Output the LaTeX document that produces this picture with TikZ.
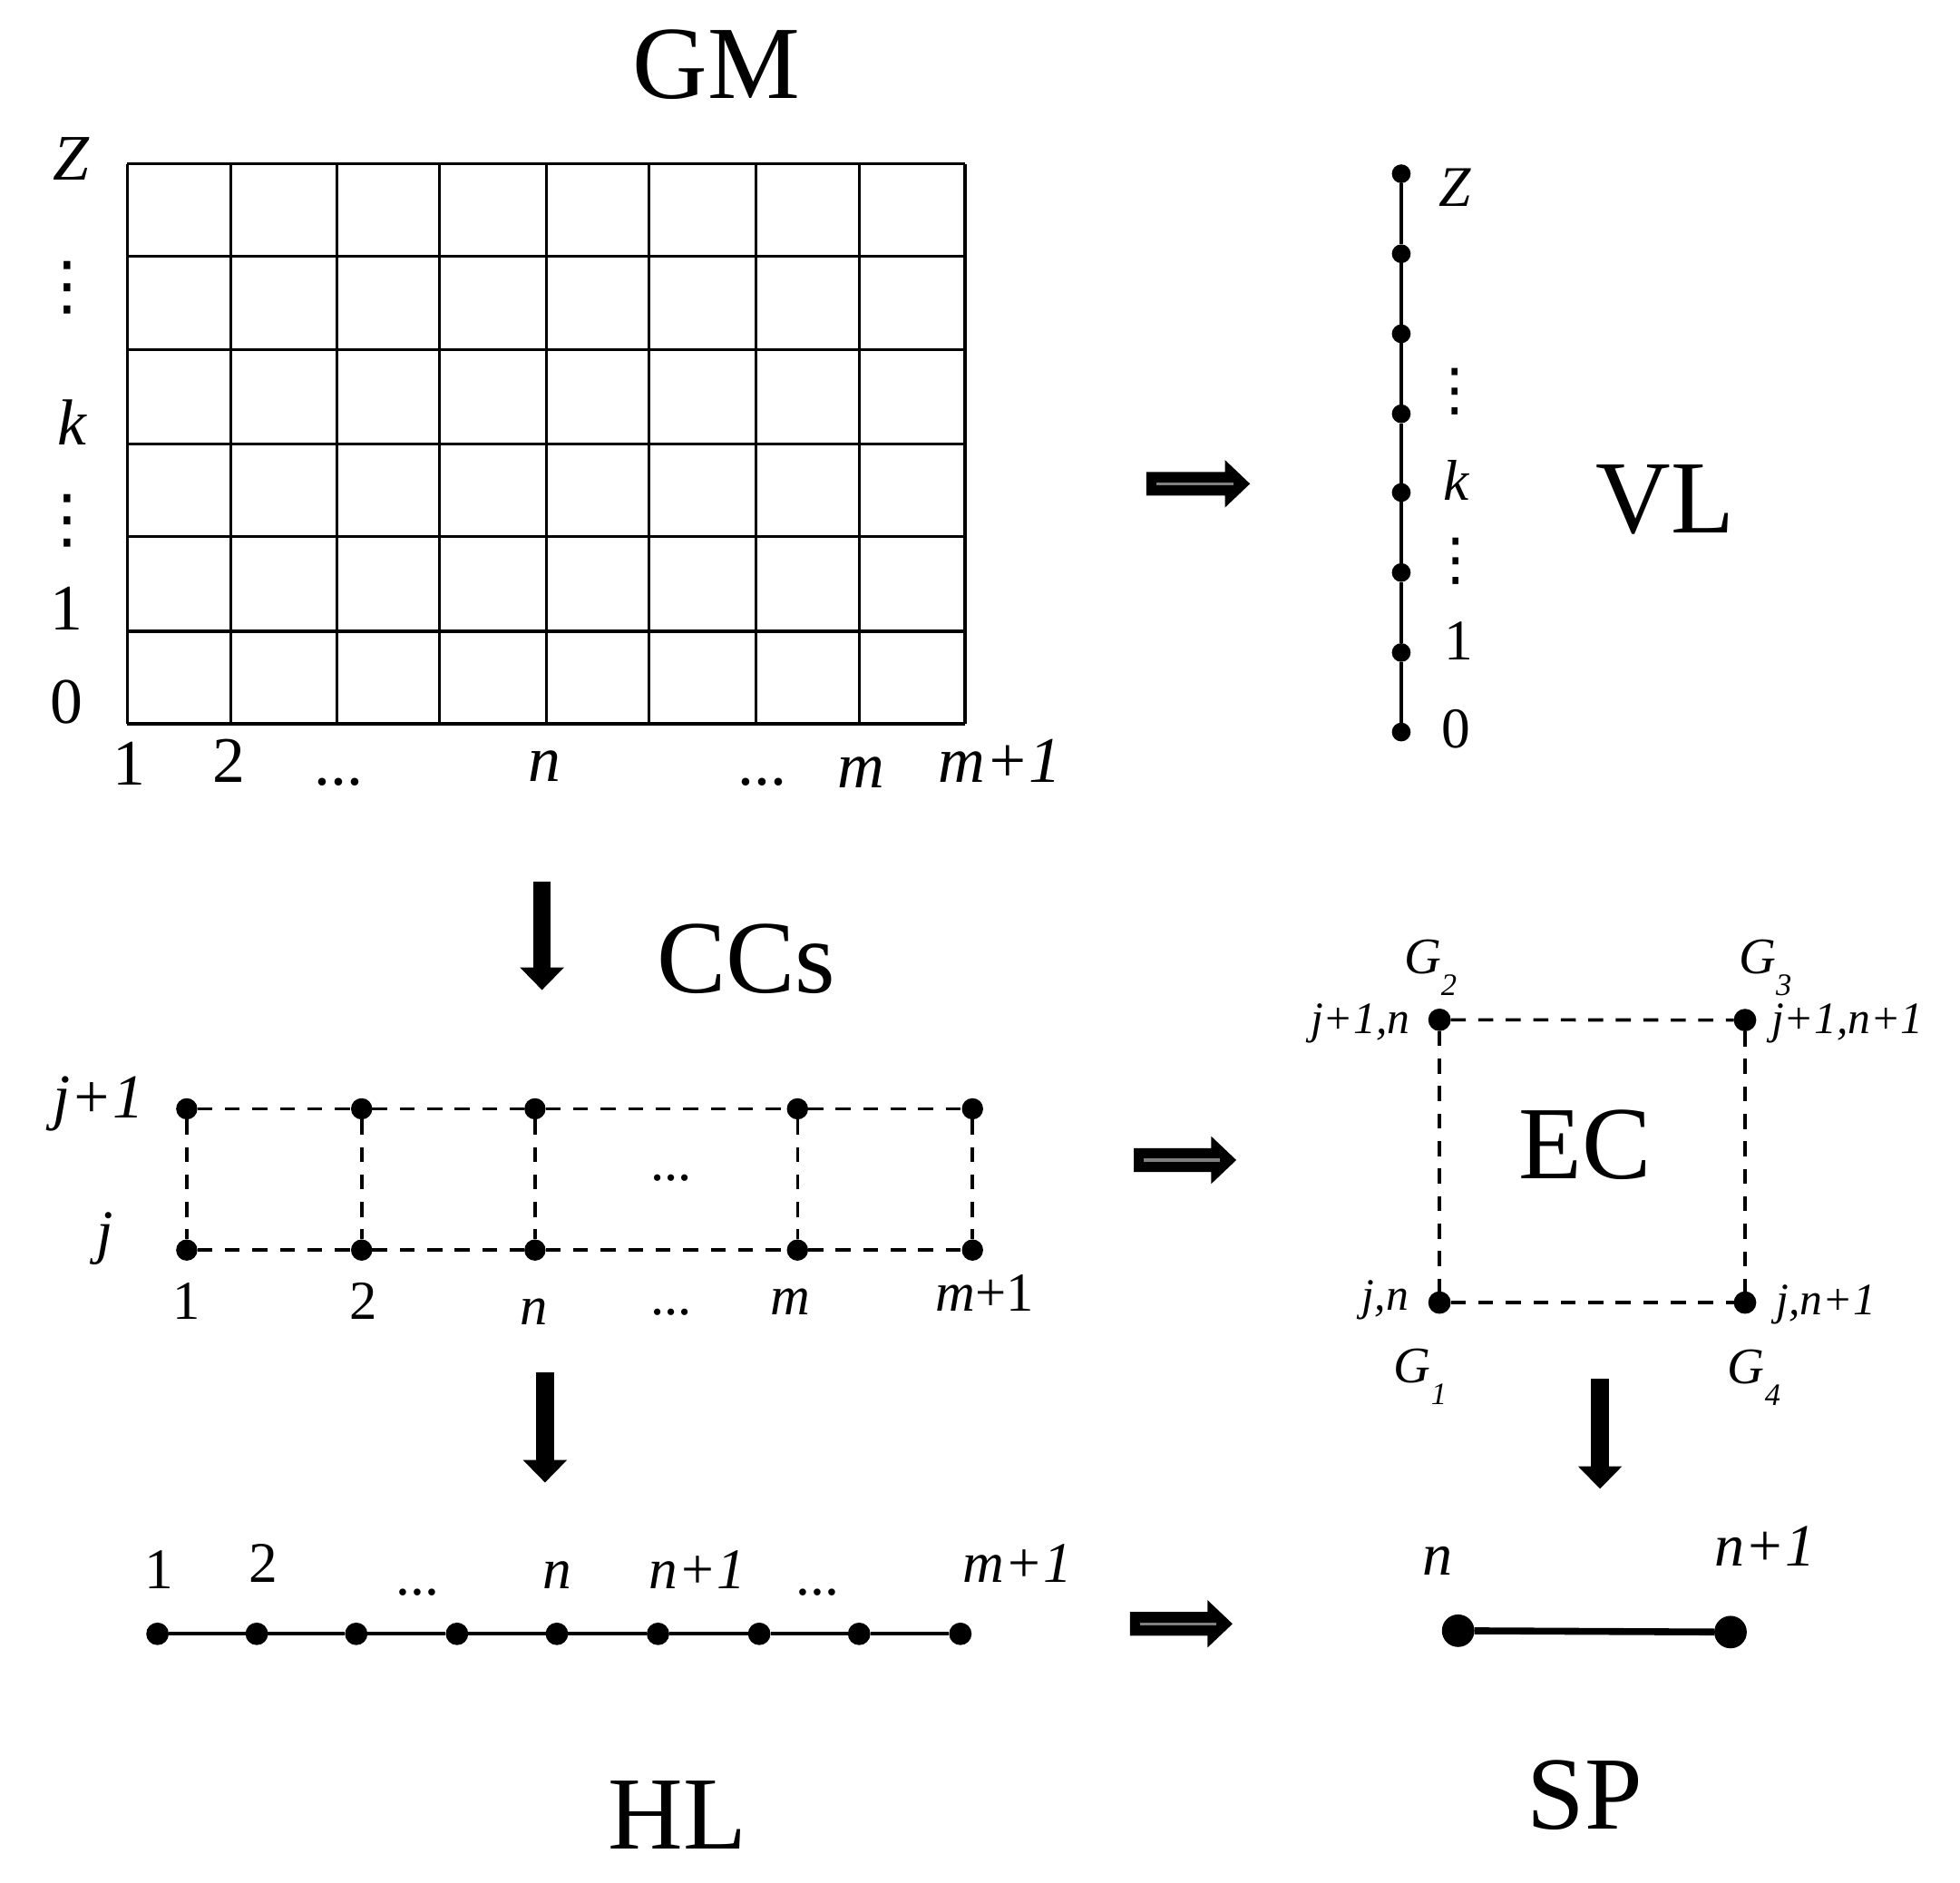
\documentclass[tikz,border=0pt]{standalone}
\usepackage{fontspec}
\setmainfont{Liberation Serif}
\newfontfamily\dejavu{DejaVu Sans}
\usetikzlibrary{arrows.meta,calc}
\newcommand\Gsub[2]{\textit{#1}\raisebox{-17.5pt}{\fontsize{25}{25}\selectfont\textit{#2}}}
\newcommand\dblarrow[2]{%
  \fill ($(#1)+(0,9.5)$) -- ($(#2)+(-20,9.5)$) -- ($(#2)+(-20,19)$) -- (#2)
        -- ($(#2)+(-20,-19)$) -- ($(#2)+(-20,-9.5)$) -- ($(#1)+(0,-9.5)$) -- cycle;
  \draw[gray, line width=2.4pt] ($(#1)+(8,0)$) -- ($(#2)+(-13,0)$);}
\tikzset{
  title/.style={font=\fontsize{83}{83}\selectfont, anchor=base, inner sep=0pt},
  glab/.style={font=\fontsize{52}{52}\selectfont, anchor=base, inner sep=0pt},
  vlab/.style={font=\fontsize{46}{46}\selectfont, anchor=base, inner sep=0pt},
  clab/.style={font=\fontsize{44}{44}\selectfont, anchor=base, inner sep=0pt},
  elab/.style={font=\fontsize{36}{36}\selectfont\itshape, anchor=base, inner sep=0pt},
  gsym/.style={font=\fontsize{41}{41}\selectfont, anchor=base west, inner sep=0pt},
  hlab/.style={font=\fontsize{46}{46}\selectfont, anchor=base, inner sep=0pt},
  slab/.style={font=\fontsize{48}{48}\selectfont\itshape, anchor=base, inner sep=0pt},
  vdot/.style={font=\dejavu\fontsize{52}{52}\selectfont, anchor=center, inner sep=0pt},
  gridline/.style={line width=2.3pt},
  dot/.style={circle, fill, inner sep=0pt, outer sep=0pt, minimum size=#1},
  dot/.default=16pt,
  dashl/.style={line width=2.6pt, dash pattern=on 12pt off 10pt},
  solidl/.style={line width=3pt},
  downarrow/.style={line width=14pt, -{Triangle[length=18pt,width=34pt]}},
}
\begin{document}
\begin{tikzpicture}[x=1pt,y=-1pt]
\useasboundingbox (0,0) rectangle (1568,1506);

% ---------- GM grid ----------
\node[title] (gm) at (573,79) {GM};
\foreach \x in {101.7,184.4,269.4,351.6,437,519,604.6,687.5,772}
  \draw[gridline] (\x,131) -- (\x,579);
\foreach \y in {131,205,280,355,429,505,579}
  \draw[gridline] (101.7,\y) -- (772,\y);
\node[glab] (gz) at (57,144) {\textit{Z}};
\node[vdot] (gv1) at (54,230) {⋮};
\node[glab] (gk) at (58,356) {\textit{k}};
\node[vdot] (gv2) at (54,417) {⋮};
\node[glab] (g1) at (53,504) {1};
\node[glab] (g0) at (53,579) {0};
\node[glab] (gb1) at (103,628) {1};
\node[glab] (gb2) at (183,626) {2};
\node[glab] (gbd1) at (271,628) {...};
\node[glab] (gbn) at (436,625) {\textit{n}};
\node[glab] (gbd2) at (610,628) {...};
\node[glab] (gbm) at (689,630) {\textit{m}};
\node[glab] (gbm1) at (800,626) {\textit{m+1}};

% ---------- VL ----------
\foreach \i/\y in {0/585.6,1/522,2/458,3/394,4/331,5/267,6/203,7/139}
  \node[dot=15pt] (v\i) at (1121,\y) {};
\foreach \i [evaluate=\i as \j using int(\i+1)] in {0,...,6}
  \draw[line width=2.5pt] (v\i) -- (v\j);
\node[vlab] (vz) at (1164,165) {\textit{Z}};
\node[vdot,font=\dejavu\fontsize{46}{46}\selectfont] (vv1) at (1164,313) {⋮};
\node[vlab] (vk) at (1165,400) {\textit{k}};
\node[vdot,font=\dejavu\fontsize{46}{46}\selectfont] (vv2) at (1165,449) {⋮};
\node[vlab] (v1l) at (1167,528) {1};
\node[vlab] (v0l) at (1165,598) {0};
\node[title] (vl) at (1332,426) {VL};

% ---------- arrows ----------
\coordinate (a1s) at (917,387);  \coordinate (a1e) at (1000,387);
\coordinate (a2s) at (907,928);  \coordinate (a2e) at (989,928);
\coordinate (a3s) at (904,1299); \coordinate (a3e) at (986,1299);
\dblarrow{a1s}{a1e}
\dblarrow{a2s}{a2e}
\dblarrow{a3s}{a3e}
\coordinate (d1s) at (433.6,705);  \coordinate (d1e) at (433.6,792);
\coordinate (d2s) at (436,1098);   \coordinate (d2e) at (436,1186);
\coordinate (d3s) at (1280,1103);  \coordinate (d3e) at (1280,1191);
\draw[downarrow] (d1s) -- (d1e);
\draw[downarrow] (d2s) -- (d2e);
\draw[downarrow] (d3s) -- (d3e);

% ---------- CCs ----------
\node[title] (ccs) at (597,794) {CCs};
\foreach \i/\x in {1/149.4,2/289.3,3/428,4/638,5/778}{
  \node[dot=17pt] (ct\i) at (\x,887) {};
  \node[dot=17pt] (cb\i) at (\x,1000) {};
  \draw[dashl] (ct\i) -- (cb\i);}
\foreach \i [evaluate=\i as \j using int(\i+1)] in {1,...,4}{
  \draw[dashl] (ct\i) -- (ct\j);
  \draw[dashl] (cb\i) -- (cb\j);}
\node[clab,font=\fontsize{50}{50}\selectfont] (cj1) at (79,894) {\textit{j+1}};
\node[clab,font=\fontsize{48}{48}\selectfont] (cj) at (84,1002) {\textit{j}};
\node[clab] (cl1) at (149,1055) {1};
\node[clab] (cl2) at (291,1055) {2};
\node[clab] (cln) at (427,1060) {\textit{n}};
\node[clab] (cld) at (537,1052) {...};
\node[clab] (clm) at (632,1052) {\textit{m}};
\node[clab] (clm1) at (788,1049) {\textit{m}+1};
\node[clab] (cmid) at (537,944) {...};

% ---------- EC ----------
\node[dot=18pt] (e2) at (1151.6,815.8) {};
\node[dot=18pt] (e3) at (1396,816) {};
\node[dot=18pt] (e1) at (1151.6,1042) {};
\node[dot=18pt] (e4) at (1396,1042) {};
\draw[dashl] (e2) -- (e3);
\draw[dashl] (e1) -- (e4);
\draw[dashl] (e2) -- (e1);
\draw[dashl] (e3) -- (e4);
\node[title] (ec) at (1268,943) {EC};
\node[elab,anchor=base east] (l2) at (1128,827) {j+1,n};
\node[elab,anchor=base west] (l3) at (1417,827) {j+1,n+1};
\node[elab,anchor=base east] (l1) at (1127,1048) {j,n};
\node[elab,anchor=base west] (l4) at (1421,1052) {j,n+1};
\node[gsym] (G2) at (1123,779) {\Gsub{G}{2}};
\node[gsym] (G3) at (1391,779) {\Gsub{G}{3}};
\node[gsym] (G1) at (1115,1106) {\Gsub{G}{1}};
\node[gsym] (G4) at (1382,1107) {\Gsub{G}{4}};

% ---------- HL ----------
\foreach \i/\x in {1/126,2/205.4,3/285,4/365.6,5/445.5,6/526.4,7/607.4,8/687.3,9/768.3}
  \node[dot=18pt] (h\i) at (\x,1307) {};
\foreach \i [evaluate=\i as \j using int(\i+1)] in {1,...,8}
  \draw[solidl] (h\i) -- (h\j);
\node[hlab] (hl1) at (127,1271) {1};
\node[hlab] (hl2) at (211,1266) {2};
\node[hlab] (hld1) at (334,1276) {...};
\node[hlab] (hln) at (446,1271) {\textit{n}};
\node[hlab] (hln1) at (558,1271) {\textit{n+1}};
\node[hlab] (hld2) at (654,1276) {...};
\node[hlab] (hlm1) at (814,1265.5) {\textit{m+1}};
\node[title] (hl) at (542,1479) {HL};

% ---------- SP ----------
\node[dot=26pt] (s1) at (1166.5,1304.5) {};
\node[dot=26pt] (s2) at (1384.4,1305.6) {};
\draw[line width=5.5pt] (s1) -- (s2);
\node[slab] (sn) at (1150,1260) {n};
\node[slab] (sn1) at (1412,1252.6) {n+1};
\node[title] (sp) at (1268,1463) {SP};
\end{tikzpicture}
\end{document}
